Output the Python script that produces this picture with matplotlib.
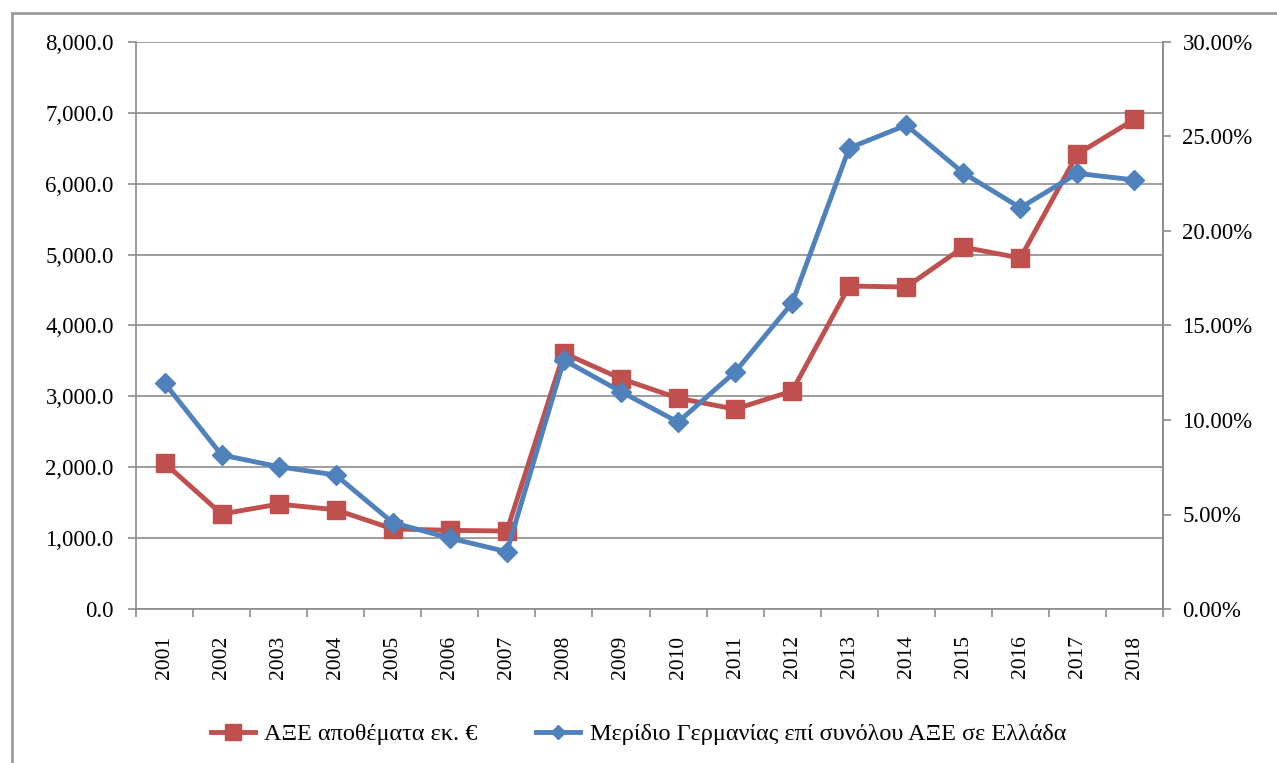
import numpy as np
import matplotlib.pyplot as plt
from matplotlib.patches import Rectangle
from matplotlib.ticker import FuncFormatter, MultipleLocator

plt.rcParams['font.family'] = ['Liberation Serif', 'DejaVu Serif']

years = ['2001', '2002', '2003', '2004', '2005', '2006', '2007', '2008', '2009',
         '2010', '2011', '2012', '2013', '2014', '2015', '2016', '2017', '2018']
fdi_stock = [2060, 1340, 1480, 1400, 1130, 1110, 1100, 3610, 3250,
             2975, 2820, 3075, 4557, 4543, 5105, 4952, 6420, 6909]
germany_share = [0.1196, 0.0815, 0.0753, 0.0709, 0.0457, 0.0375, 0.0303, 0.1317, 0.1150,
                 0.0989, 0.1254, 0.1619, 0.2439, 0.2560, 0.2307, 0.2123, 0.2305, 0.2270]

red = '#C0504D'
blue = '#4F81BD'
grey = '#8C8C8C'
fs = 16.5

fig = plt.figure(figsize=(12.77, 7.63), dpi=100)
ax = fig.add_axes([136/1277, 1 - 609/763, (1163-136)/1277, (609-42)/763])
x = np.arange(len(years))

l1, = ax.plot(x, fdi_stock, color=red, lw=3.5, marker='s', markersize=13,
              label='ΑΞΕ αποθέματα εκ. €', zorder=3)
ax.set_xlim(-0.5, len(years) - 0.5)
ax.set_ylim(0, 8000)
ax.yaxis.set_major_locator(MultipleLocator(1000))
ax.yaxis.set_major_formatter(FuncFormatter(lambda v, p: f'{v:,.1f}'))
ax.grid(axis='y', color=grey, lw=1.2)
ax.set_axisbelow(True)

ax.set_xticks(x)
ax.set_xticklabels(years, rotation=90, fontsize=15.5)
ax.set_xticks(np.arange(-0.5, len(years)), minor=True)
ax.tick_params(axis='x', which='major', length=0, pad=19)
ax.tick_params(axis='x', which='minor', length=6, width=1.2, color=grey)
ax.tick_params(axis='y', length=6, width=1.2, color=grey, labelsize=fs, pad=10)

ax.spines['top'].set_visible(False)
for s in ['left', 'right', 'bottom']:
    ax.spines[s].set_color(grey)
    ax.spines[s].set_linewidth(1.2)

ax2 = ax.twinx()
l2, = ax2.plot(x, germany_share, color=blue, lw=3.5, marker='D', markersize=10,
               label='Μερίδιο Γερμανίας επί συνόλου ΑΞΕ σε Ελλάδα', zorder=3)
ax2.set_ylim(0, 0.30)
ax2.yaxis.set_major_locator(MultipleLocator(0.05))
ax2.yaxis.set_major_formatter(FuncFormatter(lambda v, p: f'{v*100:.2f}%'))
ax2.tick_params(axis='y', length=6, width=1.2, color=grey, labelsize=fs, pad=8)
for s in ['top', 'left', 'bottom']:
    ax2.spines[s].set_visible(False)
ax2.spines['right'].set_color(grey)
ax2.spines['right'].set_linewidth(1.2)

# smaller markers for the legend keys
l1_leg, = ax.plot([], [], color=red, lw=3.5, marker='s', markersize=11)
l2_leg, = ax.plot([], [], color=blue, lw=3.5, marker='D', markersize=7)
fig.legend([l1_leg, l2_leg], [l1.get_label(), l2.get_label()], loc='center',
           bbox_to_anchor=(0.5, 1 - 734/763), ncol=2, frameon=False, fontsize=17.5,
           handlelength=1.8, handletextpad=0.4, columnspacing=2.4)

fig.patches.append(Rectangle((12/1277, -0.05), 1.1, 1 - 13/763 + 0.05,
                             transform=fig.transFigure, fill=False,
                             edgecolor='#9a9a9a', lw=2))

fig.savefig('out.png', dpi=100, facecolor='white')
